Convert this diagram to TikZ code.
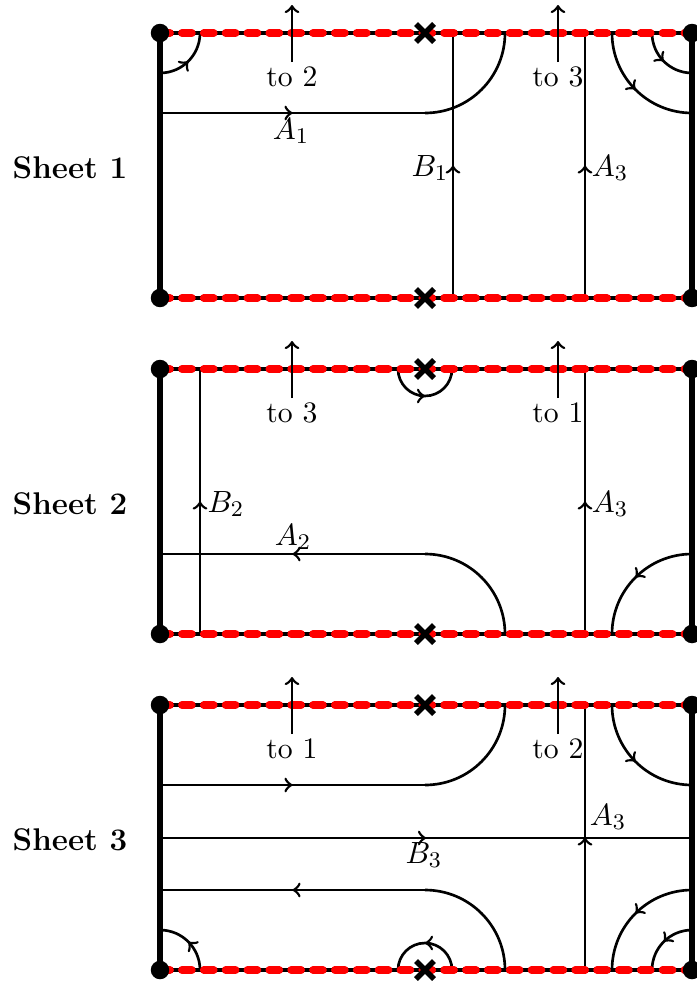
\documentclass[tikz,border=0pt]{standalone}
\usetikzlibrary{decorations.markings}
\begin{document}
\begin{tikzpicture}[x=0.357pt,y=0.357pt,
  font=\fontsize{10.6pt}{12.7pt}\selectfont,
  edgeline/.style={line width=1.9pt},
  cutblack/.style={line width=1.5pt},
  cutred/.style={red, line width=2.7pt, line cap=round, dash pattern=on 3.6pt off 4.2pt},
  cyc/.style={line width=0.95pt},
  midarr/.style={postaction={decorate}, decoration={markings, mark=at position 0.5 with {\arrow[line width=0.95pt]{>}}}},
  toarr/.style={line width=0.95pt, ->},
  cornerdot/.style={circle, fill=black, inner sep=0pt, minimum size=6.6pt},
  lbl/.style={inner sep=1pt},
  mlbl/.style={inner sep=1pt, font=\fontsize{11.2pt}{13pt}\selectfont},
  crossmark/.pic={\draw[line width=2pt] (-9,-9)--(9,9) (-9,9)--(9,-9);},
  sheetframe/.pic={
    \draw[edgeline] (160,-33) -- (160,-298);
    \draw[edgeline] (692,-33) -- (692,-298);
    \draw[cutblack] (160,-33) -- (692,-33);
    \draw[cutred] (160,-33) -- (692,-33);
    \draw[cutblack] (160,-298) -- (692,-298);
    \draw[cutred] (160,-298) -- (692,-298);
    \node[cornerdot] at (160,-33) {};
    \node[cornerdot] at (692,-33) {};
    \node[cornerdot] at (160,-298) {};
    \node[cornerdot] at (692,-298) {};
    \pic at (425,-33) {crossmark};
    \pic at (425,-298) {crossmark};
    \coordinate (-l0) at (292,-62);
    \coordinate (-l1) at (292,-5);
    \coordinate (-r0) at (558,-62);
    \coordinate (-r1) at (558,-5);
    \draw[toarr] (-l0) -- (-l1);
    \draw[toarr] (-r0) -- (-r1);
  }
]
\useasboundingbox (0,0) rectangle (696,-984);

% ---------------- Sheet 1 ----------------
\begin{scope}
  \draw[cyc,midarr] (160,-73) arc[start angle=-90, end angle=0, radius=40];
  \draw[cyc,midarr] (160,-113) -- (425,-113);
  \draw[cyc] (425,-113) arc[start angle=-90, end angle=0, radius=80];
  \draw[cyc,midarr] (453,-298) -- (453,-33);
  \draw[cyc,midarr] (585,-298) -- (585,-33);
  \draw[cyc,midarr] (652,-33) arc[start angle=180, end angle=270, radius=40];
  \draw[cyc,midarr] (612,-33) arc[start angle=180, end angle=270, radius=80];
  \pic (f1) at (0,0) {sheetframe};
  \node[lbl] (ta1) at (292,-77) {to 2};
  \node[lbl] (tb1) at (558,-77) {to 3};
  \node[mlbl] (a11) at (291,-131) {$A_1$};
  \node[mlbl] (b11) at (430,-168) {$B_1$};
  \node[mlbl] (a31) at (610,-168) {$A_3$};
  \node[mlbl] (s1) at (70,-168) {\textbf{Sheet 1}};
\end{scope}

% ---------------- Sheet 2 ----------------
\begin{scope}[shift={(0,-336)}]
  \draw[cyc,midarr] (398,-33) arc[start angle=180, end angle=360, radius=27];
  \draw[cyc,midarr] (200,-298) -- (200,-33);
  \draw[cyc] (505,-298) arc[start angle=0, end angle=90, radius=80];
  \draw[cyc,midarr] (425,-218) -- (160,-218);
  \draw[cyc,midarr] (585,-298) -- (585,-33);
  \draw[cyc,midarr] (692,-218) arc[start angle=90, end angle=180, radius=80];
  \pic (f2) at (0,0) {sheetframe};
  \node[lbl] (ta2) at (292,-77) {to 3};
  \node[lbl] (tb2) at (558,-77) {to 1};
  \node[mlbl] (b22) at (226,-168) {$B_2$};
  \node[mlbl] (a22) at (293,-201) {$A_2$};
  \node[mlbl] (a32) at (610,-168) {$A_3$};
  \node[mlbl] (s2) at (70,-168) {\textbf{Sheet 2}};
\end{scope}

% ---------------- Sheet 3 ----------------
\begin{scope}[shift={(0,-672)}]
  \draw[cyc,midarr] (160,-113) -- (425,-113);
  \draw[cyc] (425,-113) arc[start angle=-90, end angle=0, radius=80];
  \draw[cyc,midarr] (160,-166) -- (692,-166);
  \draw[cyc,midarr] (585,-298) -- (585,-33);
  \draw[cyc] (505,-298) arc[start angle=0, end angle=90, radius=80];
  \draw[cyc,midarr] (425,-218) -- (160,-218);
  \draw[cyc,midarr] (200,-298) arc[start angle=0, end angle=90, radius=40];
  \draw[cyc,midarr] (452,-298) arc[start angle=0, end angle=180, radius=27];
  \draw[cyc,midarr] (692,-218) arc[start angle=90, end angle=180, radius=80];
  \draw[cyc,midarr] (692,-258) arc[start angle=90, end angle=180, radius=40];
  \draw[cyc,midarr] (612,-33) arc[start angle=180, end angle=270, radius=80];
  \pic (f3) at (0,0) {sheetframe};
  \node[lbl] (ta3) at (292,-77) {to 1};
  \node[lbl] (tb3) at (558,-77) {to 2};
  \node[mlbl] (b33) at (424,-183) {$B_3$};
  \node[mlbl] (a33) at (608,-145) {$A_3$};
  \node[mlbl] (s3) at (70,-168) {\textbf{Sheet 3}};
\end{scope}
\end{tikzpicture}
\end{document}
